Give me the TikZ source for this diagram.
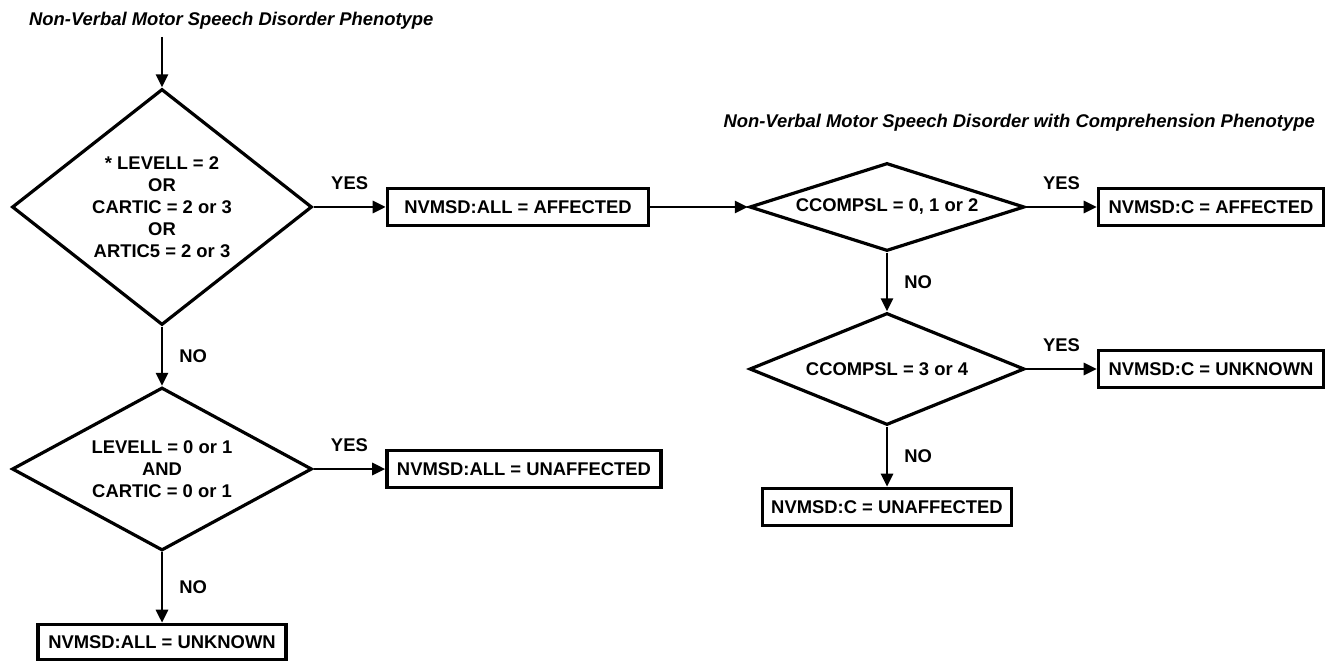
\documentclass[tikz,border=0pt]{standalone}
\usepackage{fontspec}
\setmainfont{Liberation Sans}
\usetikzlibrary{shapes.geometric,arrows.meta}
\begin{document}
\begin{tikzpicture}[x=1pt, y=-1pt,
        every node/.style = {font=\fontsize{18.4}{22}\selectfont\bfseries},
        title/.style = {font=\fontsize{18.4}{22}\selectfont\bfseries\itshape, inner sep=0pt},
        decision/.style = {diamond, draw, line width=3.2pt, inner sep=0pt, align=center},
        result/.style = {rectangle, draw, line width=3.6pt, minimum height=37pt, inner sep=0pt},
        flow/.style = {line width=2.7pt, -{Triangle[length=13pt,width=12pt]}},
        answer/.style = {inner sep=0pt}]
        \useasboundingbox (0,0) rectangle (1331,663);
        \node[title, anchor=west] (phen) at (29,21) {Non-Verbal Motor Speech Disorder Phenotype};
        \node[title, anchor=east] (phenc) at (1315,123) {Non-Verbal Motor Speech Disorder with Comprehension Phenotype};
        \coordinate (entry) at (162,37);
        \node[decision, minimum width=300pt, minimum height=236pt, aspect=1.27] (artic) at (162,207) {* LEVELL = 2\\OR\\CARTIC = 2 or 3\\OR\\ARTIC5 = 2 or 3};
        \node[decision, minimum width=300pt, minimum height=163pt, aspect=1.84] (level) at (162,469) {LEVELL = 0 or 1\\AND\\CARTIC = 0 or 1};
        \node[decision, minimum width=275pt, minimum height=88pt, aspect=3.1] (ccomp1) at (887,207) {CCOMPSL = 0, 1 or 2};
        \node[decision, minimum width=275pt, minimum height=112pt, aspect=2.46] (ccomp2) at (887,369) {CCOMPSL = 3 or 4};
        \node[result, minimum width=261pt] (all-aff) at (518,207) {NVMSD:ALL = AFFECTED};
        \node[result, minimum width=274pt] (all-unaff) at (524,469) {NVMSD:ALL = UNAFFECTED};
        \node[result, minimum width=248pt, minimum height=35pt] (all-unk) at (162,642) {NVMSD:ALL = UNKNOWN};
        \node[result, minimum width=225pt] (c-aff) at (1211,207) {NVMSD:C = AFFECTED};
        \node[result, minimum width=225pt] (c-unk) at (1211,369) {NVMSD:C = UNKNOWN};
        \node[result, minimum width=249pt] (c-unaff) at (887,507) {NVMSD:C = UNAFFECTED};
        % first phenotype
        \draw[flow] (entry) -- (artic.north);
        \draw[flow] (artic.east) -- node[answer, above=16pt] (yes1) {YES} (all-aff.west);
        \draw[flow] (artic.south) -- node[answer, right=16pt] (no1) {NO} (level.north);
        \draw[flow] (level.east) -- node[answer, above=16pt] (yes2) {YES} (all-unaff.west);
        \draw[flow] (level.south) -- node[answer, right=16pt] (no2) {NO} (all-unk.north);
        % with comprehension
        \draw[flow] (all-aff.east) -- (ccomp1.west);
        \draw[flow] (ccomp1.east) -- node[answer, above=16pt] (yes3) {YES} (c-aff.west);
        \draw[flow] (ccomp1.south) -- node[answer, right=16pt] (no3) {NO} (ccomp2.north);
        \draw[flow] (ccomp2.east) -- node[answer, above=16pt] (yes4) {YES} (c-unk.west);
        \draw[flow] (ccomp2.south) -- node[answer, right=16pt] (no4) {NO} (c-unaff.north);
    \end{tikzpicture}
\end{document}
